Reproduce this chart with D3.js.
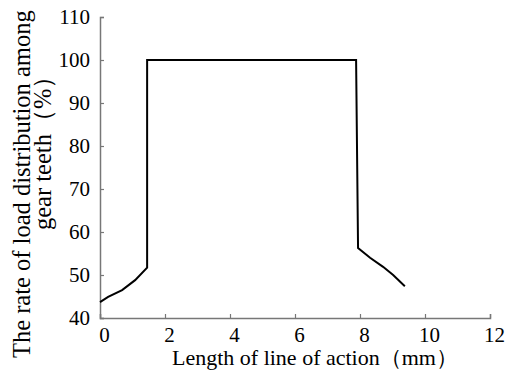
<!DOCTYPE html>
<html>
<head>
<meta charset="utf-8">
<script src="https://cdn.jsdelivr.net/npm/d3@7"></script>
<style>
  body { margin: 0; background: #fff; }
  svg { display: block; }
  svg text { font-family: "Liberation Serif", "Times New Roman", serif !important; }
</style>
</head>
<body>
<div id="chart"></div>
<script>
// data
var xValues = [0, 0.25, 0.68, 1.08, 1.45, 1.45, 7.88, 7.94, 8.31, 8.71, 9.02, 9.38];
var yValues = [43.7, 44.9, 46.5, 48.8, 51.7, 100, 100, 56.3, 54.0, 51.9, 50.0, 47.4];
var xTicks = [0, 2, 4, 6, 8, 10, 12];
var yTicks = [40, 50, 60, 70, 80, 90, 100, 110];

var serif = '"Liberation Serif", "Times New Roman", serif';

var svgWidth = 507;
var svgHeight = 372;
var margin = {top: 17, right: 17, bottom: 54, left: 100};
var width = svgWidth - margin.left - margin.right;
var height = svgHeight - margin.top - margin.bottom;

var svg = d3.select("#chart")
    .append("svg")
    .attr("width", svgWidth)
    .attr("height", svgHeight);

var chartGroup = svg.append("g")
    .attr("transform", `translate(${margin.left}, ${margin.top})`);

//scales
var xScale = d3.scaleLinear().domain([0, 12]).range([0, width]);
var yScale = d3.scaleLinear().domain([40, 110]).range([height, 0]);

//axes, ticks pointing inward
var bottomAxis = d3.axisBottom(xScale).tickValues(xTicks).tickSize(-4).tickPadding(9);
var leftAxis = d3.axisLeft(yScale).tickValues(yTicks).tickSize(-4).tickPadding(10);

var xAxisG = chartGroup.append("g")
    .attr("transform", `translate(0, ${height})`)
    .call(bottomAxis);
xAxisG.selectAll("text").attr("dx", 4);

var yAxisG = chartGroup.append("g")
    .call(leftAxis);

[xAxisG, yAxisG].forEach(function(g) {
    g.attr("font-family", serif).attr("font-size", 21);
    g.select(".domain").attr("stroke", "#777").attr("stroke-width", 1.5);
    g.selectAll(".tick line").attr("stroke", "#777").attr("stroke-width", 1.2);
    g.selectAll(".tick text")
        .style("font-family", serif)
        .style("font-size", "21px")
        .attr("fill", "#000");
});

//line
var points = xValues.map(function(x, i) { return [x, yValues[i]]; });
var line = d3.line()
    .x(d => xScale(d[0]))
    .y(d => yScale(d[1]));

chartGroup.append("path")
    .datum(points)
    .attr("fill", "none")
    .attr("stroke", "#000")
    .attr("stroke-width", 2)
    .attr("stroke-linejoin", "miter")
    .attr("d", line);

//axis titles
svg.append("text")
    .attr("x", 172)
    .attr("y", 365)
    .style("font-family", serif)
    .style("font-size", "22px")
    .text("Length of line of action（mm）");

var yTitle = svg.append("text")
    .attr("transform", "rotate(-90)")
    .style("font-family", serif)
    .style("font-size", "24.5px");
yTitle.append("tspan").attr("x", -358).attr("y", 30).text("The rate of load distribution among");
yTitle.append("tspan").attr("x", -230).attr("y", 51).text("gear teeth（%）");
</script>
</body>
</html>
